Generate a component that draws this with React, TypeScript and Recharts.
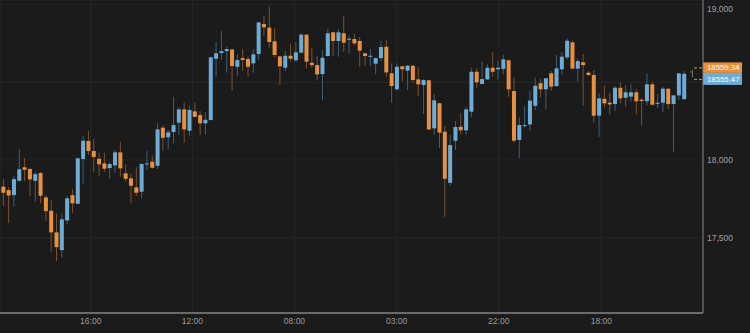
import { Bar, CartesianGrid, ComposedChart, ReferenceLine, XAxis, YAxis } from "recharts";

// hourly candles
const opens = [
  17828, 17806, 17774, 17866, 17953, 17942, 17866, 17916, 17759, 17673,
  17534, 17420, 17611, 17774, 17718, 18006, 18122, 18058, 18008, 17978,
  17948, 17965, 18049, 17914, 17882, 17824, 17796, 17972, 17989, 17963,
  18208, 18146, 18180, 18240, 18326, 18188, 18313, 18289, 18236, 18257,
  18652, 18689, 18701, 18712, 18600, 18656, 18650, 18622, 18682, 18875,
  18852, 18764, 18667, 18594, 18671, 18642, 18691, 18807, 18626, 18611,
  18553, 18669, 18822, 18766, 18816, 18774, 18779, 18766, 18687, 18665,
  18620, 18656, 18729, 18558, 18455, 18603, 18575, 18607, 18519, 18483,
  18513, 18204, 18365, 18182, 17853, 18124, 18214, 18191, 18311, 18568,
  18489, 18519, 18594, 18584, 18586, 18642, 18444, 18129, 18219, 18229,
  18349, 18494, 18455, 18558, 18476, 18584, 18661, 18757, 18588, 18629,
  18562, 18547, 18285, 18394, 18369, 18360, 18465, 18401, 18408, 18436,
  18388, 18378, 18487, 18362, 18369, 18459, 18360, 18416, 18392,
];
const highs = [
  17877, 17824, 17897, 18072, 18011, 17948, 17924, 17922, 17774, 17742,
  17656, 17656, 17768, 17813, 18015, 18154, 18186, 18135, 18047, 18047,
  17989, 18064, 18117, 17972, 17914, 17953, 17978, 18058, 18030, 18236,
  18225, 18193, 18407, 18339, 18371, 18349, 18369, 18315, 18307, 18665,
  18760, 18830, 18729, 18712, 18680, 18712, 18665, 18714, 18890, 18927,
  18987, 18848, 18670, 18702, 18749, 18760, 18816, 18810, 18723, 18669,
  18708, 18845, 18825, 18843, 18929, 18798, 18811, 18790, 18691, 18714,
  18660, 18768, 18772, 18622, 18622, 18606, 18610, 18610, 18597, 18521,
  18515, 18425, 18368, 18219, 18161, 18251, 18300, 18339, 18594, 18590,
  18631, 18616, 18695, 18637, 18678, 18645, 18532, 18275, 18347, 18446,
  18530, 18521, 18526, 18573, 18676, 18693, 18783, 18768, 18654, 18682,
  18573, 18579, 18429, 18476, 18433, 18476, 18500, 18483, 18487, 18455,
  18397, 18558, 18504, 18425, 18472, 18462, 18420, 18560, 18573,
];
const lows = [
  17703, 17596, 17699, 17864, 17864, 17770, 17731, 17721, 17609, 17409,
  17349, 17370, 17586, 17660, 17715, 17845, 18032, 17924, 17897, 17922,
  17879, 17918, 17892, 17860, 17721, 17768, 17753, 17935, 17946, 17942,
  18060, 18072, 18107, 18161, 18111, 18156, 18275, 18163, 18163, 18255,
  18536, 18644, 18562, 18446, 18541, 18575, 18536, 18562, 18644, 18798,
  18723, 18663, 18483, 18571, 18633, 18633, 18687, 18590, 18594, 18513,
  18386, 18665, 18669, 18665, 18697, 18687, 18740, 18597, 18605, 18605,
  18551, 18635, 18534, 18369, 18446, 18508, 18450, 18497, 18412, 18296,
  18193, 18161, 18079, 17634, 17834, 18064, 18165, 18165, 18278, 18465,
  18489, 18515, 18536, 18519, 18551, 18407, 18111, 18011, 18204, 18188,
  18322, 18403, 18326, 18444, 18472, 18547, 18648, 18588, 18504, 18349,
  18543, 18240, 18150, 18339, 18294, 18315, 18365, 18343, 18375, 18294,
  18221, 18350, 18352, 18337, 18307, 18328, 18053, 18386, 18386,
];
const closes = [
  17789, 17772, 17877, 17940, 17937, 17875, 17909, 17770, 17671, 17534,
  17439, 17618, 17753, 17721, 18011, 18124, 18058, 18019, 17972, 17944,
  17974, 18049, 17946, 17879, 17834, 17789, 17974, 17978, 17950, 18197,
  18143, 18178, 18225, 18326, 18197, 18322, 18278, 18236, 18259, 18661,
  18687, 18701, 18714, 18605, 18643, 18644, 18600, 18680, 18886, 18854,
  18760, 18676, 18603, 18671, 18652, 18693, 18807, 18633, 18611, 18551,
  18658, 18816, 18766, 18822, 18755, 18781, 18751, 18704, 18669, 18671,
  18656, 18727, 18564, 18476, 18600, 18584, 18607, 18515, 18487, 18515,
  18197, 18384, 18176, 17879, 18096, 18212, 18191, 18326, 18568, 18500,
  18521, 18594, 18568, 18594, 18648, 18455, 18124, 18225, 18225, 18382,
  18478, 18455, 18526, 18472, 18590, 18665, 18768, 18588, 18637, 18611,
  18547, 18285, 18397, 18365, 18358, 18465, 18397, 18436, 18436, 18378,
  18380, 18487, 18356, 18369, 18459, 18360, 18416, 18558, 18555,
];

const timeTicks = [16.5, 35.6, 54.8, 74, 93.2, 112.5];
const timeLabels = ["16:00", "12:00", "08:00", "03:00", "22:00", "18:00"];
const priceTicks = [17500, 18000, 18500, 19000];
// 18,500 sits under the last-price tags, so its label is not drawn
const hiddenPriceLabels = [18500];
const askPrice = 18559.34;
const bidPrice = 18555.47;

const UP = "#6cacd6";
const UP_WICK = "#3c6076";
const DOWN = "#e8903e";
const DOWN_WICK = "#7e5129";
const BG = "#1b1b1b";

const data = opens.map((open, i) => ({
  i,
  open,
  high: highs[i],
  low: lows[i],
  close: closes[i],
  range: [lows[i], highs[i]],
}));

function Candle(props: any) {
  const { x, y, width, height, payload } = props;
  if (!payload) return null;
  const top = Math.min(y, y + height);
  const bottom = Math.max(y, y + height);
  const span = payload.high - payload.low || 1;
  const toY = (v: number) => top + ((payload.high - v) / span) * (bottom - top);
  const up = payload.close >= payload.open;
  const cx = x + width / 2;
  const bTop = toY(Math.max(payload.open, payload.close));
  const bBot = toY(Math.min(payload.open, payload.close));
  return (
    <g>
      <line x1={cx} x2={cx} y1={top} y2={bottom} stroke={up ? UP_WICK : DOWN_WICK} strokeWidth={1} />
      <rect x={cx - 2} y={bTop} width={4} height={Math.max(1, bBot - bTop)} fill={up ? UP : DOWN} />
    </g>
  );
}

function PriceTick(props: any) {
  const { x, y, payload } = props;
  if (hiddenPriceLabels.includes(payload.value)) return <g />;
  return (
    <text x={x} y={y} dy="0.355em" fill="#a0a0a0" fontSize={8.5} textAnchor="start">
      {payload.value.toLocaleString("en-US")}
    </text>
  );
}

// last price tags on the right axis
function PriceTags(props: any) {
  const vb = props.viewBox;
  if (!vb) return null;
  const right = vb.x + vb.width;
  const y = vb.y;
  return (
    <g>
      <line x1={right - 9} x2={right} y1={y - 5.5} y2={y - 5.5} stroke={DOWN} strokeDasharray="3 2" />
      <line x1={right - 9} x2={right} y1={y + 6} y2={y + 6} stroke={UP} strokeDasharray="3 2" />
      <line x1={right - 10.5} x2={right - 10.5} y1={y - 3.5} y2={y + 4} stroke="#6d6d6d" />
      <line x1={right - 13} x2={right - 10} y1={y - 1.5} y2={y - 1.5} stroke="#6d6d6d" />
      <rect x={right} y={y - 11} width={39} height={10.5} fill={DOWN} />
      <rect x={right} y={y - 0.5} width={39} height={12} fill={UP} />
      <text x={right + 4} y={y - 5.7} dy="0.35em" fontSize={7.8} fill="#ffffff">
        {askPrice.toFixed(2)}
      </text>
      <text x={right + 4} y={y + 5.5} dy="0.35em" fontSize={7.8} fill="#ffffff">
        {bidPrice.toFixed(2)}
      </text>
    </g>
  );
}

export default function App() {
  return (
    <div style={{ position: "absolute", left: 0, top: 0, width: 750, height: 333, background: BG }}>
      <ComposedChart
        width={750}
        height={333}
        data={data}
        margin={{ top: 0, right: 0, bottom: 0, left: 0 }}
        style={{ fontFamily: "'Liberation Sans', Arial, sans-serif" }}
      >
        <CartesianGrid stroke="#262626" />
        <XAxis
          dataKey="i"
          type="number"
          domain={[-0.56, 131.6]}
          allowDataOverflow
          ticks={timeTicks}
          tickFormatter={(v: number) => timeLabels[timeTicks.indexOf(v)] ?? ""}
          height={20}
          tickSize={0}
          tickMargin={5}
          axisLine={{ stroke: "#6a6a6a", strokeWidth: 2 }}
          tick={{ fill: "#9a9a9a", fontSize: 8.5 }}
        />
        <YAxis
          orientation="right"
          type="number"
          domain={[17015, 19030]}
          allowDataOverflow
          ticks={priceTicks}
          width={47}
          tickSize={0}
          tickMargin={4}
          axisLine={{ stroke: "#808080" }}
          tick={PriceTick}
        />
        <Bar dataKey="range" barSize={4} shape={Candle} isAnimationActive={false} />
        <ReferenceLine y={(askPrice + bidPrice) / 2} stroke="none" label={PriceTags} />
      </ComposedChart>
    </div>
  );
}
